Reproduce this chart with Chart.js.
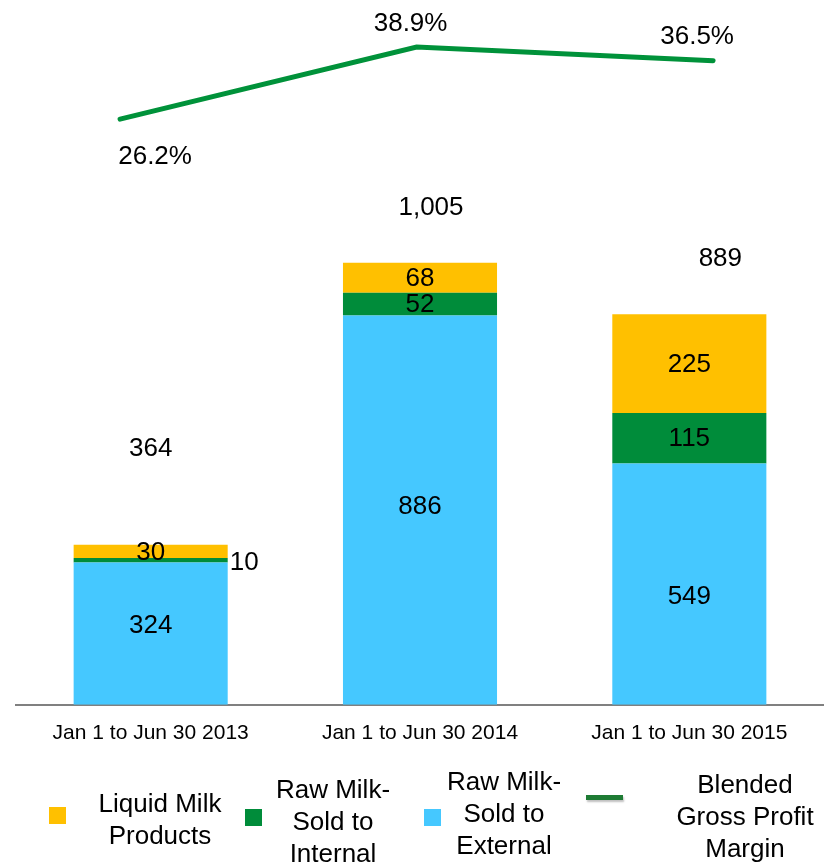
<!DOCTYPE html>
<html>
<head>
<meta charset="utf-8">
<script src="https://cdn.jsdelivr.net/npm/chart.js@4.4.1/dist/chart.umd.min.js"></script>
<style>
  body { margin: 0; background: #fff; font-family: "Liberation Sans", Arial, sans-serif; }
  #wrap { position: relative; width: 824px; height: 863px; overflow: hidden; }
  #chart { position: absolute; left: 0; top: 0; }
  .lg { position: absolute; width: 200px; font-size: 26px; line-height: 32px; text-align: center; color: #000; }
  .sw { position: absolute; width: 17px; height: 17px; }
</style>
</head>
<body>
<div id="wrap">
  <canvas id="chart" width="824" height="770"></canvas>

  <div class="sw" style="left:49px; top:807px; background:#FFC000"></div>
  <div class="lg" style="left:60px; top:787px">Liquid Milk<br>Products</div>

  <div class="sw" style="left:245px; top:809px; background:#008C3A"></div>
  <div class="lg" style="left:233px; top:773px">Raw Milk-<br>Sold to<br>Internal</div>

  <div class="sw" style="left:424px; top:809px; background:#45C8FF"></div>
  <div class="lg" style="left:404px; top:765px">Raw Milk-<br>Sold to<br>External</div>

  <div style="position:absolute; left:586px; top:795px; width:37px; height:5px; background:#1E7B34; box-shadow:1px 2px 2px rgba(0,0,0,0.25)"></div>
  <div class="lg" style="left:645px; top:768px">Blended<br>Gross Profit<br>Margin</div>
</div>

<script>
// periods and revenue split (RMB million)
const periods = ['Jan 1 to Jun 30 2013', 'Jan 1 to Jun 30 2014', 'Jan 1 to Jun 30 2015'];
const rawExternal = [324, 886, 549];
const rawInternal = [10, 52, 115];
const liquidMilk = [30, 68, 225];
const totals = [364, 1005, 889];
// blended gross profit margin, %
const grossMargin = [26.2, 38.9, 36.5];

// label nudges (px) for the totals, the margin labels and the bottom segment labels
const totalOffsets = [[0, -96], [11, -55], [31, -55]];
const marginOffsets = [[35, 38], [-6, -23], [-16, -24]];
const externalShift = [-8, -3, 13];

const FONT = '"Liberation Sans", Arial, sans-serif';

const valueLabels = {
  id: 'valueLabels',
  afterDatasetsDraw(chart) {
    const ctx = chart.ctx;
    ctx.save();
    ctx.font = '26px ' + FONT;
    ctx.fillStyle = '#000';
    ctx.textBaseline = 'middle';

    // segment values
    [0, 1, 2].forEach(di => {
      const ds = chart.data.datasets[di];
      chart.getDatasetMeta(di).data.forEach((bar, i) => {
        const h = bar.base - bar.y;
        if (h < 10) {
          ctx.textAlign = 'left';
          ctx.fillText(ds.data[i], bar.x + bar.width / 2 + 2, bar.y + 5);
        } else {
          const shift = di === 0 ? externalShift[i] : 1;
          ctx.textAlign = 'center';
          ctx.fillText(ds.data[i], bar.x, (bar.y + bar.base) / 2 + shift);
        }
      });
    });

    // totals above each stack
    ctx.textAlign = 'center';
    chart.getDatasetMeta(2).data.forEach((bar, i) => {
      const [dx, dy] = totalOffsets[i];
      ctx.fillText(totals[i].toLocaleString('en-US'), bar.x + dx, bar.y + dy);
    });

    // margin line labels
    chart.getDatasetMeta(3).data.forEach((pt, i) => {
      const [dx, dy] = marginOffsets[i];
      ctx.fillText(grossMargin[i].toFixed(1) + '%', pt.x + dx, pt.y + dy);
    });
    ctx.restore();
  }
};

new Chart(document.getElementById('chart'), {
  type: 'bar',
  data: {
    labels: periods,
    datasets: [
      { label: 'Raw Milk-Sold to External', data: rawExternal, backgroundColor: '#45C8FF', order: 2 },
      { label: 'Raw Milk-Sold to Internal', data: rawInternal, backgroundColor: '#008C3A', order: 2 },
      { label: 'Liquid Milk Products', data: liquidMilk, backgroundColor: '#FFC000', order: 2 },
      {
        type: 'line',
        label: 'Blended Gross Profit Margin',
        data: grossMargin.map((v, i) => ({ x: i, y: v })),
        xAxisID: 'xl',
        yAxisID: 'y1',
        borderColor: '#00923A',
        borderWidth: 5,
        borderCapStyle: 'round',
        pointRadius: 0,
        tension: 0,
        order: 1
      }
    ]
  },
  options: {
    responsive: false,
    animation: false,
    layout: { padding: { left: 16, right: 0, top: 0, bottom: 16 } },
    datasets: { bar: { grouped: false, categoryPercentage: 1, barPercentage: 0.572 } },
    plugins: { legend: { display: false }, tooltip: { enabled: false } },
    scales: {
      x: {
        stacked: true,
        grid: { display: false },
        border: { color: '#808080', width: 2 },
        ticks: { color: '#000', font: { family: FONT, size: 21 }, padding: 8, maxRotation: 0 }
      },
      xl: { type: 'linear', display: false, offset: false, min: -0.351, max: 2.374 },
      y: { stacked: true, display: false, min: 0, max: 1604 },
      y1: { display: false, min: -77, max: 47.2 }
    }
  },
  plugins: [valueLabels]
});
</script>
</body>
</html>
